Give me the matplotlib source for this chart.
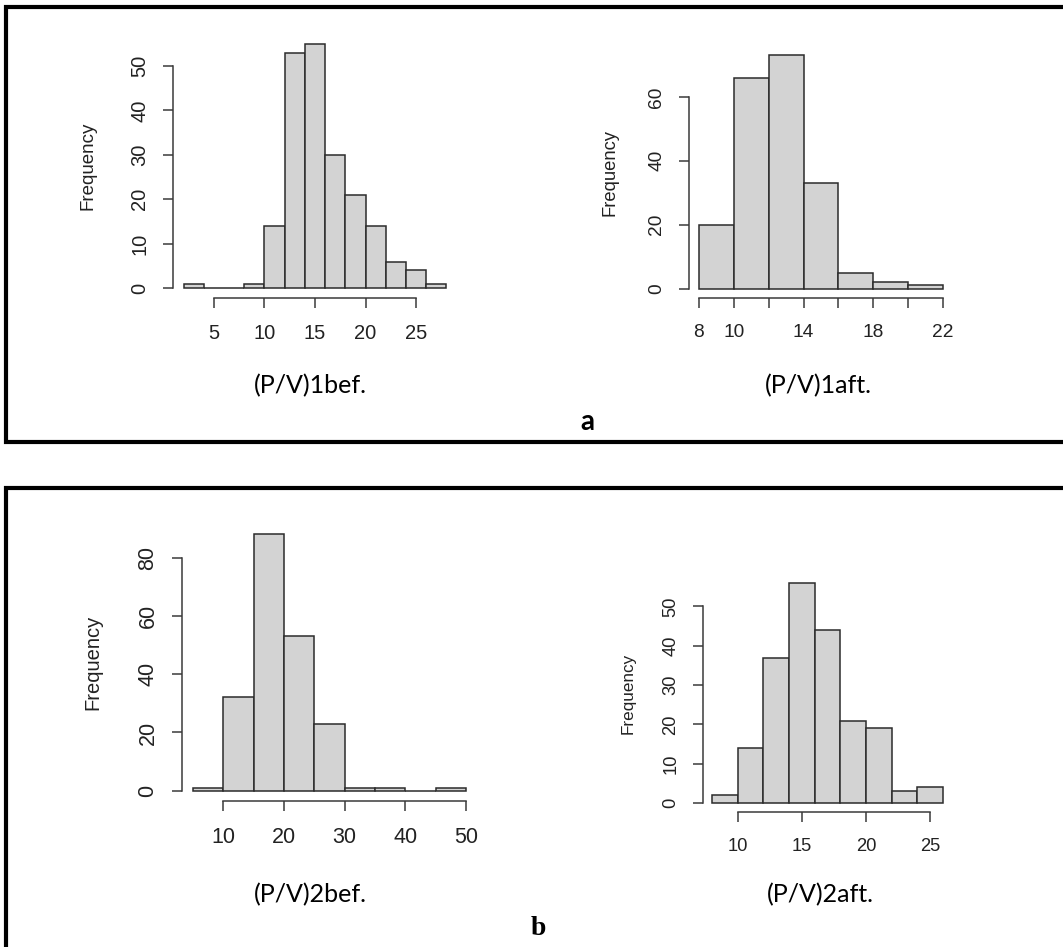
import numpy as np
import matplotlib.pyplot as plt
from matplotlib.lines import Line2D

# Histogram counts per bin (bin edges given separately)
edges_1bef = np.arange(2, 30, 2)
counts_1bef = [1, 0, 0, 1, 14, 53, 55, 30, 21, 14, 6, 4, 1]

edges_1aft = np.arange(8, 24, 2)
counts_1aft = [20, 66, 73, 33, 5, 2, 1]

edges_2bef = np.arange(5, 55, 5)
counts_2bef = [1, 32, 88, 53, 23, 1, 1, 0, 1]

edges_2aft = np.arange(8, 28, 2)
counts_2aft = [2, 14, 37, 56, 44, 21, 19, 3, 4]

xticks_1bef = [5, 10, 15, 20, 25]
xticks_1aft = [8, 10, 12, 14, 16, 18, 20, 22]
xlabels_1aft = ["8", "10", "", "14", "", "18", "", "22"]
xticks_2bef = [10, 20, 30, 40, 50]
xticks_2aft = [10, 15, 20, 25]
yticks_1bef = [0, 10, 20, 30, 40, 50]
yticks_1aft = [0, 20, 40, 60]
yticks_2bef = [0, 20, 40, 60, 80]
yticks_2aft = [0, 10, 20, 30, 40, 50]

W, H = 1063, 947
fig = plt.figure(figsize=(W / 100, H / 100), dpi=100)
fig.patch.set_facecolor("white")

R_FONT = "Liberation Sans"
DOC_FONT = ["Lato", "DejaVu Sans"]
AX_COL = "#3a3a3a"


def px_axes(left, top, right, bottom):
    return fig.add_axes([left / W, 1 - bottom / H, (right - left) / W, (bottom - top) / H])


def r_hist(ax, edges, counts, xticks, yticks, fs, xlabels=None):
    edges = np.asarray(edges, dtype=float)
    ax.bar(edges[:-1], counts, width=np.diff(edges), align="edge",
           color="#d3d3d3", edgecolor="#2b2b2b", linewidth=1.1)
    # base R: plot region spans data range padded by 4% on each side
    xr = edges[-1] - edges[0]
    ax.set_xlim(edges[0] - 0.04 * xr, edges[-1] + 0.04 * xr)
    ymax = max(counts)
    ax.set_ylim(-0.04 * ymax, ymax * 1.04)
    for s in ("top", "right"):
        ax.spines[s].set_visible(False)
    ax.spines["left"].set_bounds(yticks[0], yticks[-1])
    ax.spines["bottom"].set_bounds(xticks[0], xticks[-1])
    for s in ("left", "bottom"):
        ax.spines[s].set_color(AX_COL)
        ax.spines[s].set_linewidth(1.1)
    ax.set_xticks(xticks)
    if xlabels is not None:
        ax.set_xticklabels(xlabels)
    ax.set_yticks(yticks)
    ax.tick_params(direction="out", length=7, width=1.1, color=AX_COL,
                   labelsize=fs, labelcolor="#222222")
    ax.tick_params(axis="x", pad=12)
    ax.tick_params(axis="y", pad=10)
    for t in ax.get_xticklabels() + ax.get_yticklabels():
        t.set_fontfamily(R_FONT)
    for t in ax.get_yticklabels():
        t.set_rotation(90)
        t.set_verticalalignment("center")
    ax.patch.set_alpha(0)


ax1 = px_axes(173, 34, 457, 298)
r_hist(ax1, edges_1bef, counts_1bef, xticks_1bef, yticks_1bef, 14.5)
ax2 = px_axes(689, 46, 953, 298)
r_hist(ax2, edges_1aft, counts_1aft, xticks_1aft, yticks_1aft, 13.8, xlabels_1aft)
ax3 = px_axes(182, 524, 477, 801)
r_hist(ax3, edges_2bef, counts_2bef, xticks_2bef, yticks_2bef, 15.5)
ax4 = px_axes(703, 574, 952, 812)
r_hist(ax4, edges_2aft, counts_2aft, xticks_2aft, yticks_2aft, 13.2)

# y-axis titles
for x, y, fs in [(88, 166, 13.5), (610, 172, 13.2), (93, 662, 14.5), (628, 693, 12.3)]:
    fig.text(x / W, 1 - y / H, "Frequency", rotation=90, ha="center", va="center",
             fontsize=fs, family=R_FONT, color="#222222")

# variable captions below each histogram
for x, y, s in [(310, 386, "(P/V)1bef."), (818, 386, "(P/V)1aft."),
                (310, 895, "(P/V)2bef."), (820, 895, "(P/V)2aft.")]:
    fig.text(x / W, 1 - y / H, s, ha="center", va="center", fontsize=18,
             family=DOC_FONT, color="black")

fig.text(587 / W, 1 - 422 / H, "a", ha="center", va="center", fontsize=20,
         family=DOC_FONT, weight="bold")
fig.text(538 / W, 1 - 928 / H, "b", ha="center", va="center", fontsize=20,
         family="Liberation Serif", weight="bold")

# frames around the two panels
for pts in ([(W + 5, 7), (6, 7), (6, 442), (W + 5, 442)],
            [(W + 5, 488), (6, 488), (6, H + 5)]):
    xs = [p[0] / W for p in pts]
    ys = [1 - p[1] / H for p in pts]
    fig.add_artist(Line2D(xs, ys, transform=fig.transFigure, color="black",
                          linewidth=3.0, solid_joinstyle="miter"))

fig.savefig("out.png", dpi=100)
